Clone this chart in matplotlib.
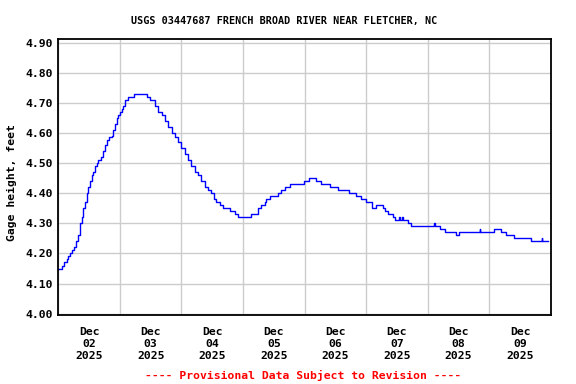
from datetime import datetime, timedelta

import matplotlib
matplotlib.use("Agg")
import matplotlib.pyplot as plt
import matplotlib.dates as mdates

# gage readings: hours after Dec 02 2025 00:00 (10 per row) and gage height, feet
hours = [
    0.0, 1.57, 2.35, 3.26, 3.9, 4.55, 5.46, 6.24, 6.76, 7.54,
    8.45, 9.1, 9.74, 10.39, 11.04, 11.69, 12.34, 12.99, 13.63, 14.28,
    14.93, 15.58, 16.49, 17.53, 18.18, 18.83, 19.73, 20.77, 21.42, 22.07,
    22.72, 23.36, 24.01, 24.66, 25.31, 25.96, 27.26, 29.59, 34.39, 35.69,
    37.63, 38.93, 40.23, 41.53, 42.82, 44.12, 45.42, 46.72, 48.01, 49.31,
    50.61, 51.9, 53.2, 54.5, 55.8, 57.1, 58.39, 59.69, 60.73, 61.64,
    62.93, 64.23, 66.83, 68.77, 70.07, 75.26, 77.85, 79.15, 80.45, 81.1,
    82.65, 85.64, 86.93, 88.23, 90.18, 95.63, 97.7, 100.3, 102.5, 105.75,
    108.99, 113.27, 115.87, 118.07, 120.02, 122.35, 123.65, 126.5, 127.15, 128.45,
    130.39, 131.2, 132.6, 133.0, 133.8, 134.2, 136.23, 137.53, 146.5, 146.8,
    148.56, 150.5, 155.04, 156.34, 164.3, 164.5, 169.96, 172.56, 174.51, 177.75,
    184.24, 188.3, 188.5, 190.72,
]
gage = [
    4.15, 4.16, 4.17, 4.18, 4.19, 4.20, 4.21, 4.22, 4.24, 4.26,
    4.30, 4.32, 4.35, 4.37, 4.40, 4.42, 4.44, 4.46, 4.47, 4.49,
    4.50, 4.51, 4.52, 4.54, 4.56, 4.575, 4.585, 4.59, 4.61, 4.63,
    4.65, 4.66, 4.67, 4.68, 4.69, 4.71, 4.72, 4.73, 4.72, 4.71,
    4.69, 4.67, 4.66, 4.64, 4.62, 4.60, 4.585, 4.57, 4.55, 4.53,
    4.51, 4.49, 4.47, 4.46, 4.44, 4.42, 4.41, 4.40, 4.38, 4.37,
    4.36, 4.35, 4.34, 4.33, 4.32, 4.33, 4.35, 4.36, 4.37, 4.38,
    4.39, 4.40, 4.41, 4.42, 4.43, 4.44, 4.45, 4.44, 4.43, 4.42,
    4.41, 4.40, 4.39, 4.38, 4.37, 4.35, 4.36, 4.35, 4.34, 4.33,
    4.32, 4.31, 4.32, 4.31, 4.32, 4.31, 4.30, 4.29, 4.30, 4.29,
    4.28, 4.27, 4.26, 4.27, 4.28, 4.27, 4.28, 4.27, 4.26, 4.25,
    4.24, 4.25, 4.24, 4.24,
]

start = datetime(2025, 12, 2)
times = [start + timedelta(hours=h) for h in hours]

plt.rcParams["font.family"] = "DejaVu Sans Mono"
plt.rcParams["font.weight"] = "bold"

fig = plt.figure(figsize=(5.76, 3.84), dpi=100)
ax = fig.add_axes([0.1012, 0.1797, 0.8554, 0.718])

ax.plot(times, gage, color="#0000ff", linewidth=1.0, drawstyle="steps-post")

ax.set_xlim(start, start + timedelta(days=8))
ax.set_ylim(3.9957, 4.911)
ax.set_yticks([4.0 + 0.1 * i for i in range(10)])
ax.yaxis.set_major_formatter(plt.FuncFormatter(lambda v, p: f"{v:.2f}"))

ax.xaxis.set_major_locator(mdates.DayLocator())
ax.xaxis.set_major_formatter(plt.NullFormatter())
ax.xaxis.set_minor_locator(mdates.HourLocator(byhour=12))
ax.xaxis.set_minor_formatter(mdates.DateFormatter("%b\n%d\n%Y"))

ax.tick_params(axis="both", which="both", length=0, labelsize=8.2)
ax.tick_params(axis="x", which="minor", pad=9)
ax.tick_params(axis="y", pad=4)
ax.grid(True, which="major", color="#cccccc", linewidth=1.0)
ax.set_axisbelow(True)
for s in ax.spines.values():
    s.set_linewidth(1.3)
    s.set_color("black")

for lbl in ax.get_xticklabels(minor=True):
    lbl.set_linespacing(1.2)

fig.text(0.012, 0.525, "Gage height, feet", rotation=90, ha="left", va="center",
         fontsize=8.2, fontweight="bold")
fig.text(0.493, 0.945, "USGS 03447687 FRENCH BROAD RIVER NEAR FLETCHER, NC",
         ha="center", va="center", fontsize=7.3, fontweight="bold")
fig.text(0.527, 0.023, "---- Provisional Data Subject to Revision ----",
         ha="center", va="center", fontsize=8.2, fontweight="bold", color="red")

fig.savefig("out.png", dpi=100)
